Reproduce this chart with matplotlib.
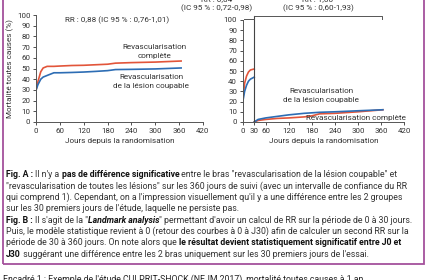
import matplotlib.pyplot as plt
from matplotlib.patches import Rectangle

plt.rcParams['font.family'] = ['Roboto', 'DejaVu Sans']

# donnees fig A (courbes cumulees 0-365 jours)
jours_a = [0, 0.3, 5, 12, 18, 28, 45, 60, 90, 120, 150, 180, 200, 240, 300, 365]
complete_a = [0, 30, 38, 47, 50.5, 52, 52, 52.3, 52.8, 53, 53.5, 54, 55, 55.5, 56, 57]
coupable_a = [0, 30, 35, 40, 42, 43.5, 46, 46, 46.3, 46.7, 47.3, 48, 49, 49.2, 49.6, 50.5]

# donnees fig B (landmark a J30)
jours_b1 = [0, 0.3, 5, 10, 15, 20, 30]
complete_b1 = [0, 22, 38, 45, 49, 51, 52]
coupable_b1 = [0, 20, 30, 36, 40, 42, 44]
jours_b2 = [30, 40, 60, 90, 120, 160, 180, 200, 240, 300, 365]
complete_b2 = [0, 1.5, 2.5, 3.5, 4, 5, 6, 8, 8.5, 10, 12]
coupable_b2 = [0, 2.5, 4, 5.5, 7, 8.5, 9, 9.5, 10, 11, 12]

xticks_a = [0, 60, 120, 180, 240, 300, 360, 420]
xticks_b = [0, 30, 60, 120, 180, 240, 300, 360, 420]
yticks = list(range(0, 101, 10))

rouge = '#e2553a'
bleu = '#2d6db4'
gris = '#333333'
violet = '#a4519c'

fig = plt.figure(figsize=(4.28, 2.80), dpi=100)
W, H = 428, 280

def axes_px(x0, x1, ytop, ybot):
    return fig.add_axes([x0 / W, 1 - ybot / H, (x1 - x0) / W, (ybot - ytop) / H])

def style(ax, xt):
    ax.set_xlim(0, 420)
    ax.set_ylim(0, 100)
    ax.set_xticks(xt)
    ax.set_yticks(yticks)
    for s in ['top', 'right']:
        ax.spines[s].set_visible(False)
    for s in ['left', 'bottom']:
        ax.spines[s].set_color('#555555')
        ax.spines[s].set_linewidth(0.7)
    ax.tick_params(labelsize=5.7, colors=gris, length=2.5, width=0.6, pad=1.5)
    ax.set_xlabel('Jours depuis la randomisation', fontsize=5.9, color=gris, labelpad=3)
    ax.patch.set_alpha(0)

ax1 = axes_px(36, 203, 15, 122)
style(ax1, xticks_a)
ax1.plot(jours_a, complete_a, color=rouge, lw=1.2)
ax1.plot(jours_a, coupable_a, color=bleu, lw=1.2)
ax1.set_ylabel('Mortalité toutes causes (%)', fontsize=5.9, color=gris, labelpad=2)
ax1.text(204, 95, 'RR : 0,88 (IC 95 % : 0,76-1,01)', fontsize=5.9, color=gris, ha='center', va='center')
ax1.text(297, 66, 'Revascularisation\ncomplète', fontsize=5.9, color=gris, ha='center', va='center', linespacing=1.5)
ax1.text(290, 38, 'Revascularisation\nde la lésion coupable', fontsize=5.9, color=gris, ha='center', va='center', linespacing=1.5)

ax2 = axes_px(242.7, 404, 20, 122)
style(ax2, xticks_b)
ax2.plot(jours_b1, complete_b1, color=rouge, lw=1.2)
ax2.plot(jours_b1, coupable_b1, color=bleu, lw=1.2)
ax2.plot(jours_b2, complete_b2, color=rouge, lw=1.2)
ax2.plot(jours_b2, coupable_b2, color=bleu, lw=1.2)
ax2.plot([30, 30], [0, 104], color='#444444', lw=0.8, clip_on=False)
ax2.plot([30, 362, 362], [104, 104, 101], color='#555555', lw=0.7, clip_on=False)
ax2.plot([3, 30], [101, 101], color='#555555', lw=0.7, clip_on=False)
ax2.text(-67, 108, 'RR : 0,84\n(IC 95 % : 0,72-0,98)', fontsize=5.9, color=gris, ha='center', va='bottom', linespacing=1.3)
ax2.text(196, 108, 'RR : 1,00\n(IC 95 % : 0,60-1,93)', fontsize=5.9, color=gris, ha='center', va='bottom', linespacing=1.3)
ax2.text(205, 26, 'Revascularisation\nde la lésion coupable', fontsize=5.9, color=gris, ha='center', va='center', linespacing=1.5)
ax2.text(295, 4, 'Revascularisation complète', fontsize=5.9, color=gris, ha='center', va='center')

# cadre violet
fig.patches.append(Rectangle((3 / W, 1 - 264 / H), 421 / W, 1.2, fill=False,
                             edgecolor=violet, lw=1.3, transform=fig.transFigure, figure=fig))

# texte explicatif (segments normaux / gras)
lignes = [
    [('Fig. A : ', 'bold', 'normal'), ("Il n'y a ", 'normal', 'normal'),
     ('pas de différence significative', 'bold', 'normal'),
     (' entre le bras "revascularisation de la lésion coupable" et', 'normal', 'normal')],
    [('"revascularisation de toutes les lésions" sur les 360 jours de suivi (avec un intervalle de confiance du RR', 'normal', 'normal')],
    [("qui comprend 1). Cependant, on a l'impression visuellement qu'il y a une différence entre les 2 groupes", 'normal', 'normal')],
    [("sur les 30 premiers jours de l'étude, laquelle ne persiste pas.", 'normal', 'normal')],
    [('Fig. B : ', 'bold', 'normal'), ("Il s'agit de la \"", 'normal', 'normal'),
     ('Landmark analysis', 'bold', 'italic'),
     ("\" permettant d'avoir un calcul de RR sur la période de 0 à 30 jours.", 'normal', 'normal')],
    [('Puis, le modèle statistique revient à 0 (retour des courbes à 0 à J30) afin de calculer un second RR sur la', 'normal', 'normal')],
    [('période de 30 à 360 jours. On note alors que ', 'normal', 'normal'),
     ('le résultat devient statistiquement significatif entre J0 et', 'bold', 'normal')],
    [('J30', 'bold', 'normal'),
     (" suggérant une différence entre les 2 bras uniquement sur les 30 premiers jours de l'essai.", 'normal', 'normal')],
]
taille = 6.35
y0 = 177
for i, segs in enumerate(lignes):
    y = 1 - (y0 + i * 11.4) / H
    prec = None
    for txt, poids, style_f in segs:
        coul = '#111111' if poids == 'bold' else gris
        if prec is None:
            prec = fig.text(6 / W, y, txt, fontsize=taille, fontweight=poids, fontstyle=style_f,
                            color=coul, va='baseline', ha='left')
        else:
            prec = plt.annotate(txt, xy=(1, 0), xycoords=prec, xytext=(0, 0), textcoords='offset points',
                                fontsize=taille, fontweight=poids, fontstyle=style_f, color=coul,
                                va='bottom', ha='left', annotation_clip=False)

fig.text(3 / W, 1 - 274 / H, "Encadré 1 : Exemple de l'étude CULPRIT-SHOCK (NEJM 2017), mortalité toutes causes à 1 an",
         fontsize=6.3, color='#222222', va='top', ha='left')

plt.savefig('out.png', dpi=100)
